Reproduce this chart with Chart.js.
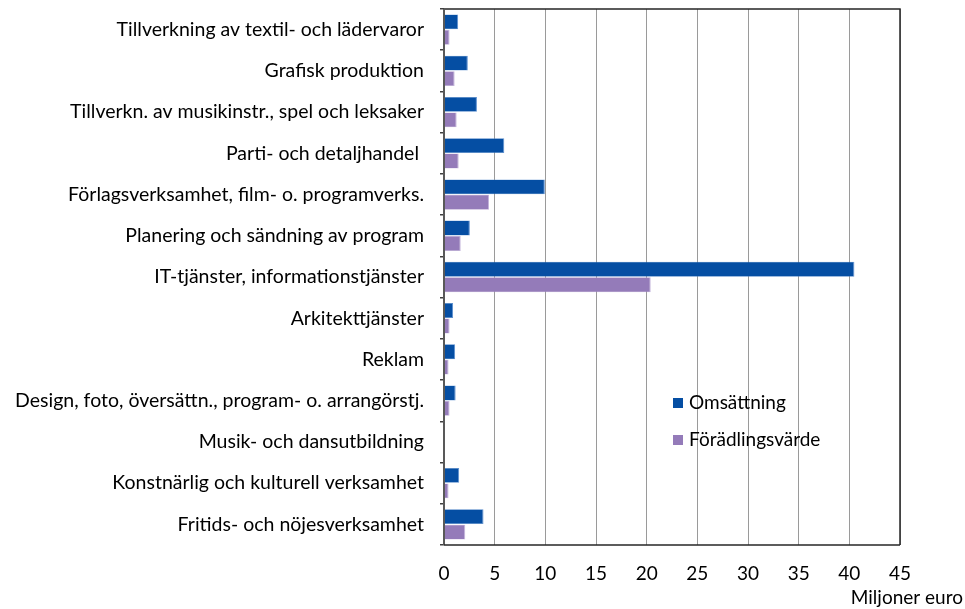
<!DOCTYPE html>
<html>
<head>
<meta charset="utf-8">
<script src="https://cdn.jsdelivr.net/npm/chart.js@4/dist/chart.umd.min.js"></script>
<style>
html,body{margin:0;padding:0;background:#fff;}
#wrap{width:965px;height:609px;position:relative;}
</style>
</head>
<body>
<div id="wrap"><canvas id="c" width="965" height="609"></canvas></div>
<script>
const categories = [
  "Tillverkning av textil- och lädervaror",
  "Grafisk produktion",
  "Tillverkn. av musikinstr., spel och leksaker",
  "Parti- och detaljhandel ",
  "Förlagsverksamhet, film- o. programverks.",
  "Planering och sändning av program",
  "IT-tjänster, informationstjänster",
  "Arkitekttjänster",
  "Reklam",
  "Design, foto, översättn., program- o. arrangörstj.",
  "Musik- och dansutbildning",
  "Konstnärlig och kulturell verksamhet",
  "Fritids- och nöjesverksamhet"
];
const omsattning = [1.4, 2.35, 3.25, 5.95, 9.95, 2.55, 40.5, 0.9, 1.1, 1.15, 0.1, 1.5, 3.9];
const foradlingsvarde = [0.55, 1.05, 1.25, 1.45, 4.45, 1.65, 20.4, 0.55, 0.45, 0.55, 0.02, 0.45, 2.1];
const xTicks = [0, 5, 10, 15, 20, 25, 30, 35, 40, 45];
const seriesNames = ["Omsättning", "Förädlingsvärde"];
const unitLabel = "Miljoner euro";

const FONT = "Lato, Carlito, 'Open Sans', sans-serif";
const FS = 19;

const framePlugin = {
  id: 'frame',
  afterDatasetsDraw(chart) {
    const {ctx, chartArea: a} = chart;
    ctx.save();
    ctx.strokeStyle = '#262626';
    ctx.lineWidth = 1.5;
    ctx.beginPath();
    ctx.moveTo(a.left, a.top); ctx.lineTo(a.right, a.top); ctx.lineTo(a.right, a.bottom);
    ctx.stroke();
    ctx.strokeStyle = '#595959';
    ctx.lineWidth = 2;
    ctx.beginPath();
    ctx.moveTo(a.left, a.top); ctx.lineTo(a.left, a.bottom);
    ctx.stroke();
    ctx.strokeStyle = '#262626';
    ctx.lineWidth = 1.5;
    ctx.beginPath();
    ctx.moveTo(a.left, a.bottom); ctx.lineTo(a.right, a.bottom);
    ctx.stroke();
    ctx.restore();
  },
  afterDraw(chart) {
    const {ctx} = chart;
    ctx.save();
    const items = chart.data.datasets;
    const lx = 673, ly = [403, 440];
    ctx.font = FS + "px " + FONT;
    ctx.textBaseline = 'middle';
    ctx.textAlign = 'left';
    items.forEach((d, i) => {
      ctx.fillStyle = d.backgroundColor;
      ctx.fillRect(lx, ly[i] - 5, 10, 10);
      ctx.fillStyle = '#000';
      ctx.fillText(d.label, lx + 16, ly[i]);
    });
    ctx.font = FS + "px " + FONT;
    ctx.textAlign = 'right';
    ctx.fillText(unitLabel, 963, 598);
    ctx.restore();
  }
};

new Chart(document.getElementById('c'), {
  type: 'bar',
  data: {
    labels: categories,
    datasets: [
      {label: seriesNames[0], data: omsattning, backgroundColor: '#054EA3', borderColor: '#5C8FD0', borderWidth: {top:0.5,bottom:0.5,right:1,left:0}, categoryPercentage: 0.75, barPercentage: 0.96},
      {label: seriesNames[1], data: foradlingsvarde, backgroundColor: '#947BB9', borderColor: '#C2B3DA', borderWidth: {top:0.5,bottom:0.5,right:1,left:0}, categoryPercentage: 0.75, barPercentage: 0.96}
    ]
  },
  options: {
    indexAxis: 'y',
    responsive: false,
    animation: false,
    layout: {padding: {top: 9, right: 65, bottom: 0, left: 0}},
    plugins: {legend: {display: false}, tooltip: {enabled: false}},
    scales: {
      x: {
        min: 0, max: 45,
        afterBuildTicks: s => { s.ticks = xTicks.map(v => ({value: v})); },
        afterFit: s => { s.height = 64; s.paddingLeft = 0; s.paddingRight = 0; },
        grid: {color: '#9a9a9a', lineWidth: 1, drawTicks: false},
        border: {display: false},
        ticks: {color: '#000', font: {family: FONT, size: FS}, padding: 17, maxRotation: 0}
      },
      y: {
        afterFit: s => { s.width = 444; s.paddingTop = 0; s.paddingBottom = 0; },
        grid: {drawOnChartArea: false, tickLength: 4, color: '#404040', lineWidth: 1.5},
        border: {display: false},
        ticks: {color: '#000', font: {family: FONT, size: 19.5}, padding: 16, autoSkip: false}
      }
    }
  },
  plugins: [framePlugin]
});
</script>
</body>
</html>
